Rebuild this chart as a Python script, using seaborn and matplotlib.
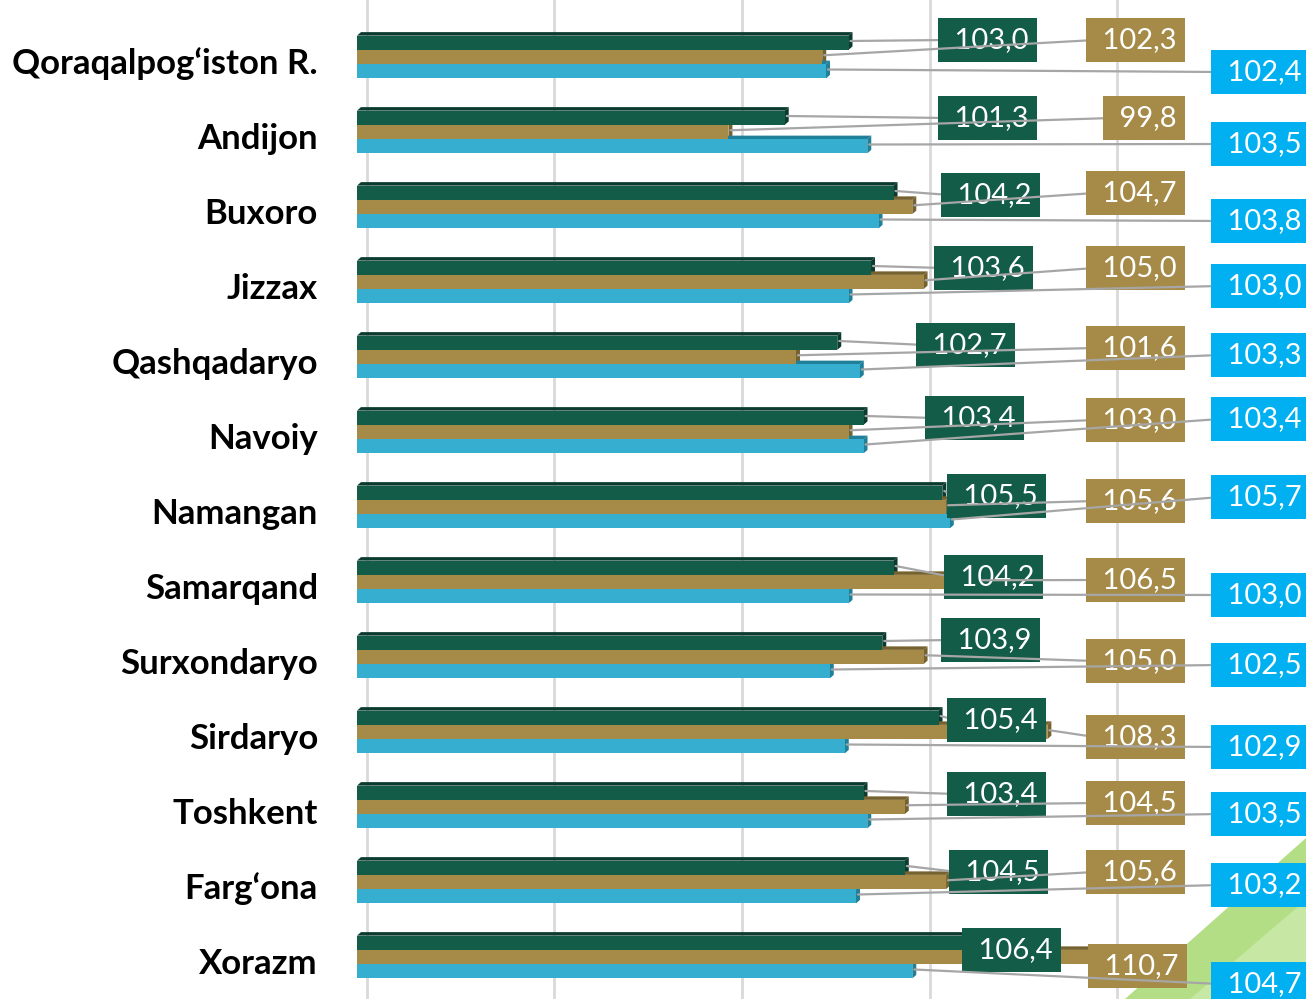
import numpy as np
import pandas as pd
import matplotlib
matplotlib.use("Agg")
import matplotlib.pyplot as plt
import matplotlib.transforms as mtransforms
import seaborn as sns
from matplotlib.patches import Polygon

# Données
regions = ["Qoraqalpog‘iston R.", "Andijon", "Buxoro", "Jizzax", "Qashqadaryo", "Navoiy",
           "Namangan", "Samarqand", "Surxondaryo", "Sirdaryo", "Toshkent", "Farg‘ona", "Xorazm"]
series_names = ["s1", "s2", "s3"]
s1_values = [103.0, 101.3, 104.2, 103.6, 102.7, 103.4, 105.5, 104.2, 103.9, 105.4, 103.4, 104.5, 106.4]
s2_values = [102.3, 99.8, 104.7, 105.0, 101.6, 103.0, 105.6, 106.5, 105.0, 108.3, 104.5, 105.6, 110.7]
s3_values = [102.4, 103.5, 103.8, 103.0, 103.3, 103.4, 105.7, 103.0, 102.5, 102.9, 103.5, 103.2, 104.7]
grid_ticks = [90, 95, 100, 105, 110]

# Style
bar_colors = ["#125C48", "#A68B48", "#36AECF"]
face_colors = ["#0B3B2E", "#76622F", "#20809A"]
box_colors = ["#125C48", "#A68B48", "#00B0F0"]

# label placement (pixels): right edge of each box, vertical shift from the row centre
lab_right_px = [[1037, 1037, 1040, 1033, 1015, 1024, 1046, 1043, 1040, 1046, 1046, 1048, 1061],
                [1185] * 12 + [1187],
                [1310] * 13]
lab_dy_px = [[-17, -14, -12, -14, -12, -14, -11, -5, -17, -12, -13, -10, -7],
             [-17, -14, -14, -14, -9, -12, -6, -2, 4, 5, -4, -10, 9],
             [15, 12, 14, 4, -2, -13, -10, 13, 8, 15, 7, 3, 27]]

df = pd.DataFrame({
    "region": regions * 3,
    "series": np.repeat(series_names, len(regions)),
    "value": s1_values + s2_values + s3_values,
})

sns.set_theme(style="white")
plt.rcParams["font.family"] = ["Lato", "DejaVu Sans"]

W, H = 1306, 999
fig = plt.figure(figsize=(W / 100, H / 100), dpi=100)
fig.patch.set_facecolor("white")

# decorative green swoosh, bottom right (behind the chart)
sw = Polygon([(1125 / W, 0), (1306 / W, (999 - 838) / H), (1, 0)], closed=True,
             transform=fig.transFigure, facecolor="#B3DE86", edgecolor="none", zorder=-1)
fig.patches.append(sw)
sw2 = Polygon([(1190 / W, 0), (1306 / W, (999 - 900) / H), (1, 0)], closed=True,
              transform=fig.transFigure, facecolor="#C6E8A4", edgecolor="none", zorder=-1)
fig.patches.append(sw2)

ax_left, ax_right = 357, 1295
ax = fig.add_axes([ax_left / W, 0, (ax_right - ax_left) / W, 1])
ax.set_facecolor("none")

xmin, xmax = 89.9, 114.9
px_per_unit = (ax_right - ax_left) / (xmax - xmin)
row_px = 75.0

sns.barplot(data=df, y="region", x="value", hue="series", palette=bar_colors,
            orient="h", width=0.57, legend=False, saturation=1, linewidth=0,
            edgecolor="none", ax=ax)

ax.set_xlim(xmin, xmax)
ax.set_ylim((H - 57) / row_px, -57 / row_px)
ax.set_xticks([])
ax.set_yticklabels([])
ax.grid(False)
for s in ax.spines.values():
    s.set_visible(False)
ax.set_xlabel("")
ax.set_ylabel("")
ax.tick_params(axis="both", length=0)

# gridlines sit on the back wall of the 3D chart, a few pixels to the right
grid_tr = ax.get_xaxis_transform() + mtransforms.ScaledTranslation(6 / 100, 0, fig.dpi_scale_trans)
for g in grid_ticks:
    ax.plot([g, g], [0, 1], transform=grid_tr, color="#D9D9D9", lw=2, zorder=0.5)

# region names, sitting a little below the bar centre
name_tr = ax.get_yaxis_transform() + mtransforms.ScaledTranslation(-39 / 100, -7 / 100, fig.dpi_scale_trans)
for i, name in enumerate(regions):
    ax.text(0, i, name, transform=name_tr, ha="right", va="center",
            fontsize=25, fontweight="bold", color="black")

# fake 3D faces
dx = 4 / px_per_unit
dy = 3.5 / row_px
bars = [p for p in ax.patches if p.get_width() > 0]
n = len(regions)
ends = {}
for k, p in enumerate(bars):
    si, ri = divmod(k, n)
    x1 = p.get_width()
    y0 = p.get_y()
    h = p.get_height()
    top = Polygon([(xmin, y0), (xmin + dx, y0 - dy), (x1 + dx, y0 - dy), (x1, y0)],
                  closed=True, facecolor=face_colors[si], edgecolor="none", zorder=0.9)
    side = Polygon([(x1, y0), (x1 + dx, y0 - dy), (x1 + dx, y0 + h - dy), (x1, y0 + h)],
                   closed=True, facecolor=face_colors[si], edgecolor="none", zorder=0.9)
    ax.add_patch(top)
    ax.add_patch(side)
    ends[(si, ri)] = (x1 + dx / 2, y0 + h / 2 - dy / 2)

# labels with leader lines
fs = 21
pad = 0.3
pad_px = pad * fs * 100 / 72
all_vals = [s1_values, s2_values, s3_values]
for si, vals in enumerate(all_vals):
    for ri, v in enumerate(vals):
        tx = xmin + (lab_right_px[si][ri] - pad_px - ax_left) / px_per_unit
        ty = ri + lab_dy_px[si][ri] / row_px
        ax.annotate(" " + f"{v:.1f}".replace(".", ","), xy=ends[(si, ri)], xytext=(tx, ty),
                    ha="right", va="center", fontsize=fs, color="white",
                    bbox=dict(boxstyle=f"square,pad={pad}", fc=box_colors[si], ec="none"),
                    arrowprops=dict(arrowstyle="-", color="#A6A6A6", lw=1.6,
                                    shrinkA=0, shrinkB=0, relpos=(0, 0.5)),
                    annotation_clip=False, zorder=3)

fig.savefig("out.png", dpi=100)
